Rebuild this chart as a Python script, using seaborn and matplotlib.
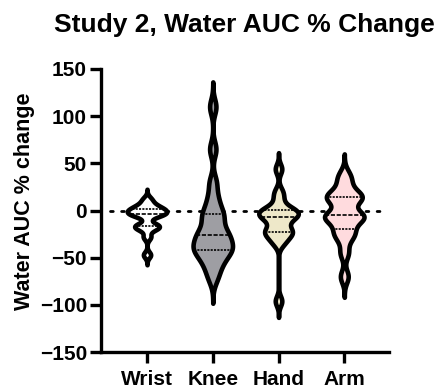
import numpy as np
import pandas as pd
import matplotlib
matplotlib.use("Agg")
import matplotlib.pyplot as plt
import seaborn as sns

groups = ["Wrist", "Knee", "Hand", "Arm"]
wrist = [12, 7, 4, 2, 1, -1, -2, -3, -5, -6, -15, -16, -18, -20, -28, -47]
knee = [110, 65, 30, 15, 5, -4, -5, -12, -20, -25, -26, -29, -35, -38, -40, -42,
        -45, -50, -55, -62, -72]
hand = [44, 20, 12, 2, 1, 0, -3, -5, -6, -8, -12, -18, -22, -23, -25, -30, -35,
        -96]
arm = [38, 30, 20, 16, 14, 12, 10, -4, -5, -6, -8, -10, -20, -24, -30, -45, -70]
yticks = [-150, -100, -50, 0, 50, 100, 150]

colors = {"Wrist": "#FFFFFF", "Knee": "#9E9EA3", "Hand": "#EEE8C9", "Arm": "#FFDBDE"}
bw = {"Wrist": 0.22, "Knee": 0.19, "Hand": 0.19, "Arm": 0.25}
values = {"Wrist": wrist, "Knee": knee, "Hand": hand, "Arm": arm}

sns.set_style("ticks")
plt.rcParams["font.family"] = ["Liberation Sans", "DejaVu Sans"]
plt.rcParams["font.weight"] = "bold"
plt.rcParams["text.color"] = "black"
plt.rcParams["axes.labelcolor"] = "black"
plt.rcParams["xtick.color"] = "black"
plt.rcParams["ytick.color"] = "black"
plt.rcParams["axes.edgecolor"] = "black"

fig = plt.figure(figsize=(4.43, 3.92), dpi=100)
ax = fig.add_axes([101 / 443, 1 - 352 / 392, (389 - 101) / 443, (352 - 69) / 392])

ax.plot([-0.56, 3.65], [0, 0], color="black", lw=2.0, linestyle=(0, (1, 3)),
        dash_capstyle="round", zorder=0.5)

for g in groups:
    vals = values[g]
    df = pd.DataFrame({"group": [g] * len(vals), "value": vals})
    sns.violinplot(data=df, x="group", y="value", order=groups, color=colors[g],
                   saturation=1, inner="quart", cut=3.2, density_norm="width",
                   width=0.6, linewidth=3.3, linecolor="black", gridsize=400,
                   bw_method=bw[g], inner_kws=dict(linewidth=1.2, color="black"),
                   ax=ax)

ax.set_xlim(-0.70, 3.68)
ax.set_ylim(-150, 150)
ax.set_yticks(yticks)
ax.set_xlabel("")
ax.set_ylabel("")
for s in ["top", "right"]:
    ax.spines[s].set_visible(False)
for s in ["left", "bottom"]:
    ax.spines[s].set_linewidth(2.4)
    ax.spines[s].set_color("black")
ax.tick_params(axis="both", length=8, width=2.4, labelsize=15, colors="black")
ax.tick_params(axis="y", pad=2)
ax.tick_params(axis="x", pad=5)
for lab in ax.get_xticklabels() + ax.get_yticklabels():
    lab.set_fontweight("bold")
    lab.set_color("black")

fig.text(0.552, 1 - 32 / 392, "Study 2, Water AUC % Change", ha="center",
         va="baseline", fontsize=19, fontweight="bold", color="black")
fig.text(25 / 443, 1 - 201 / 392, "Water AUC % change", rotation=90, ha="center",
         va="center", fontsize=15.5, fontweight="bold", color="black")

fig.savefig("out.png", dpi=100)
